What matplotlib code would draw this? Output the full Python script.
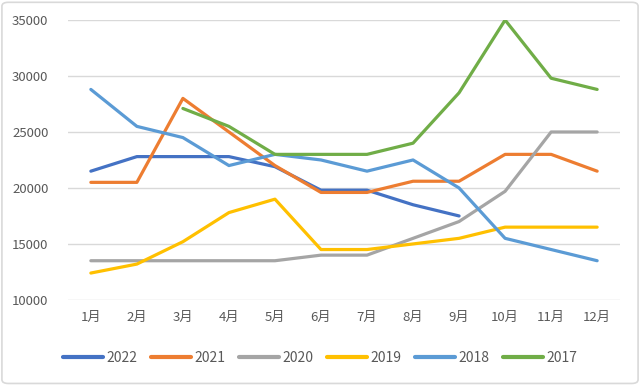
import numpy as np
import matplotlib.pyplot as plt
from matplotlib.patches import FancyBboxPatch

plt.rcParams['font.family'] = ['Noto Sans CJK SC', 'DejaVu Sans']

months = ['1月', '2月', '3月', '4月', '5月', '6月', '7月', '8月', '9月', '10月', '11月', '12月']
years = ['2022', '2021', '2020', '2019', '2018', '2017']
colors = ['#4472C4', '#ED7D31', '#A5A5A5', '#FFC000', '#5B9BD5', '#70AD47']

nan = np.nan
s2022 = [21500, 22800, 22800, 22800, 21900, 19800, 19800, 18500, 17500, nan, nan, nan]
s2021 = [20500, 20500, 28000, 25000, 22000, 19600, 19600, 20600, 20600, 23000, 23000, 21500]
s2020 = [13500, 13500, 13500, 13500, 13500, 14000, 14000, 15500, 17000, 19700, 25000, 25000]
s2019 = [12400, 13200, 15200, 17800, 19000, 14500, 14500, 15000, 15500, 16500, 16500, 16500]
s2018 = [28800, 25500, 24500, 22000, 23000, 22500, 21500, 22500, 20000, 15500, 14500, 13500]
s2017 = [nan, nan, 27100, 25500, 23000, 23000, 23000, 24000, 28500, 35000, 29800, 28800]
series = [s2022, s2021, s2020, s2019, s2018, s2017]

fig = plt.figure(figsize=(6.4, 3.85), dpi=100)
ax = fig.add_axes([0.106, 0.221, 0.863, 0.727])

x = np.arange(len(months))
for name, vals, c in zip(years, series, colors):
    ax.plot(x, vals, color=c, linewidth=2.3, label=name, solid_capstyle='round')

ax.set_xlim(-0.5, 11.5)
ax.set_ylim(10000, 35000)
ax.set_yticks(np.arange(10000, 35001, 5000))
ax.set_xticks(x)
ax.set_xticklabels(months)
ax.grid(axis='y', color='#D9D9D9', linewidth=1)
ax.set_axisbelow(True)
for sp in ax.spines.values():
    sp.set_visible(False)
ax.tick_params(length=0, colors='#595959', labelsize=9.5)
ax.tick_params(axis='y', pad=14)
ax.tick_params(axis='x', pad=8)

leg = fig.legend(loc='center', bbox_to_anchor=(0.5, 0.07), ncol=6, frameon=False,
                 fontsize=10, handlelength=2.9, columnspacing=1.0, handletextpad=0.2)
for t in leg.get_texts():
    t.set_color('#595959')
for h in leg.legend_handles:
    h.set_linewidth(3)

border = FancyBboxPatch((0.003, 0.004), 0.994, 0.99, boxstyle='round,pad=0,rounding_size=0.01',
                        transform=fig.transFigure, fill=False, edgecolor='#D9D9D9', linewidth=1.2)
fig.patches.append(border)

fig.savefig('out.png', dpi=100)
